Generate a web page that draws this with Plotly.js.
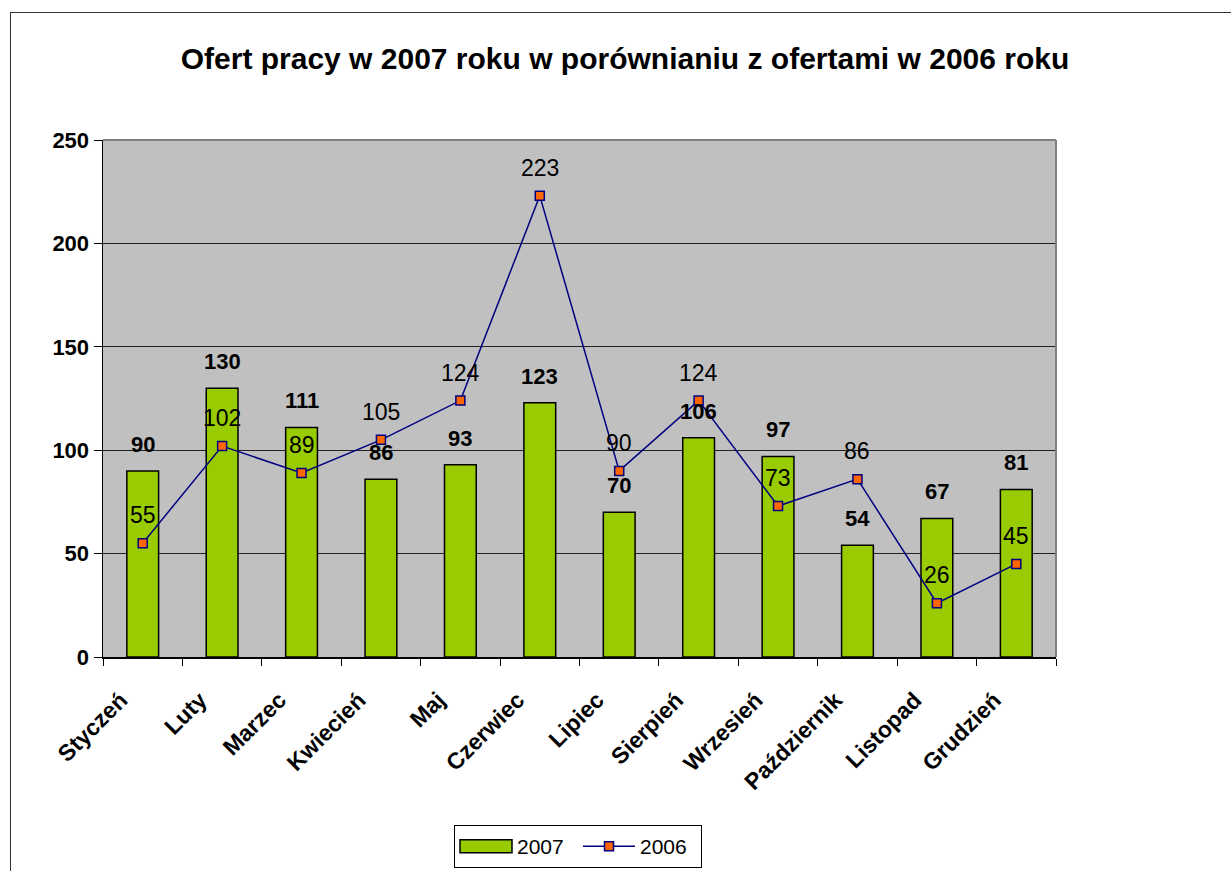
<!DOCTYPE html>
<html>
<head>
<meta charset="utf-8">
<script src="https://cdn.plot.ly/plotly-3.0.1.min.js"></script>
<style>
html,body{margin:0;padding:0;background:#fff;overflow:hidden;}
#frame{position:absolute;left:10px;top:12px;width:1300px;height:950px;border:1.5px solid #333;box-sizing:border-box;pointer-events:none;z-index:5;}
#chart{position:absolute;left:0;top:0;width:1231px;height:871px;}
</style>
</head>
<body>
<div id="chart"></div>
<div id="frame"></div>
<script>
const months = ["Styczeń","Luty","Marzec","Kwiecień","Maj","Czerwiec","Lipiec","Sierpień","Wrzesień","Październik","Listopad","Grudzień"];
const values2007 = [90,130,111,86,93,123,70,106,97,54,67,81];
const values2006 = [55,102,89,105,124,223,90,124,73,86,26,45];
const yTicks = [0,50,100,150,200,250];

const font = "Liberation Sans, Arial, sans-serif";

const bars = {
  type: "bar", name: "2007", x: months, y: values2007,
  marker: {color: "#99CC00", line: {color: "#000000", width: 1.5}},
  width: 0.4, hoverinfo: "none"
};
const line = {
  type: "scatter", mode: "lines+markers", name: "2006", x: months, y: values2006,
  line: {color: "#000080", width: 1.5},
  marker: {symbol: "square", size: 9, color: "#FF6600", line: {color: "#000080", width: 1.5}},
  hoverinfo: "none"
};

const annotations = [];
months.forEach((m, i) => {
  annotations.push({x: m, y: values2007[i], xref: "x", yref: "y", text: "<b>" + values2007[i] + "</b>",
    showarrow: false, yanchor: "bottom", yshift: 12, font: {family: font, size: 22, color: "#000"}});
  annotations.push({x: m, y: values2006[i], xref: "x", yref: "y", text: String(values2006[i]),
    showarrow: false, yanchor: "bottom", yshift: 13, font: {family: font, size: 23, color: "#000"}});
});

const layout = {
  width: 1231, height: 871,
  margin: {l: 103, r: 175, t: 140, b: 214},
  paper_bgcolor: "#ffffff", plot_bgcolor: "#C0C0C0",
  title: {text: "<b>Ofert pracy w 2007 roku w porównianiu z ofertami w 2006 roku</b>",
    x: 625/1231, xanchor: "center", xref: "container", y: 1 - 58/871, yanchor: "middle", yref: "container",
    font: {family: font, size: 30, color: "#000"}},
  showlegend: true,
  legend: {orientation: "h", xref: "container", x: 578/1231, xanchor: "center",
    yref: "container", y: 1 - 825/871, yanchor: "top",
    bordercolor: "#000", borderwidth: 1, bgcolor: "#fff",
    font: {family: font, size: 21, color: "#000"}, itemwidth: 52, tracegroupgap: 0,
    entrywidth: 56, entrywidthmode: "pixels"},
  xaxis: {type: "category", tickson: "boundaries", ticks: "outside", ticklen: 7, tickcolor: "#000",
    tickangle: -45, tickfont: {family: font, size: 23, color: "#000", weight: "bold"},
    ticklabelshift: -22, ticklabelstandoff: 19,
    showline: true, linecolor: "#000", linewidth: 1.5, showgrid: false, mirror: false,
    range: [-0.5, 11.5], fixedrange: true, automargin: false},
  yaxis: {range: [0, 250], tickvals: yTicks, ticktext: yTicks.map(v => "<b>" + v + "</b>"),
    ticks: "outside", ticklen: 8, tickcolor: "#000",
    tickfont: {family: font, size: 22, color: "#000"},
    showline: true, linecolor: "#000", linewidth: 1.5, showgrid: true, gridcolor: "#222", gridwidth: 1,
    zeroline: false, fixedrange: true, automargin: false},
  shapes: [
    {type: "line", xref: "paper", yref: "paper", x0: 0, x1: 1, y0: 1, y1: 1, line: {color: "#808080", width: 2}},
    {type: "line", xref: "paper", yref: "paper", x0: 1, x1: 1, y0: 0, y1: 1, line: {color: "#808080", width: 2}}
  ],
  annotations: annotations
};

Plotly.newPlot("chart", [bars, line], layout, {staticPlot: true, displayModeBar: false}).then(() => {
  try {
    const items = document.querySelectorAll(".legend .traces");
    const linePath = items[1].querySelector(".legendlines path");
    const barPath = items[0].querySelector(".legendpoints path");
    if (linePath && barPath) {
      const bb = linePath.getBBox();
      barPath.setAttribute("transform", linePath.getAttribute("transform") || "");
      barPath.setAttribute("d", `M${bb.x},6.5H${bb.x + bb.width}V-6.5H${bb.x}Z`);
    }
  } catch (e) {}
});
</script>
</body>
</html>
